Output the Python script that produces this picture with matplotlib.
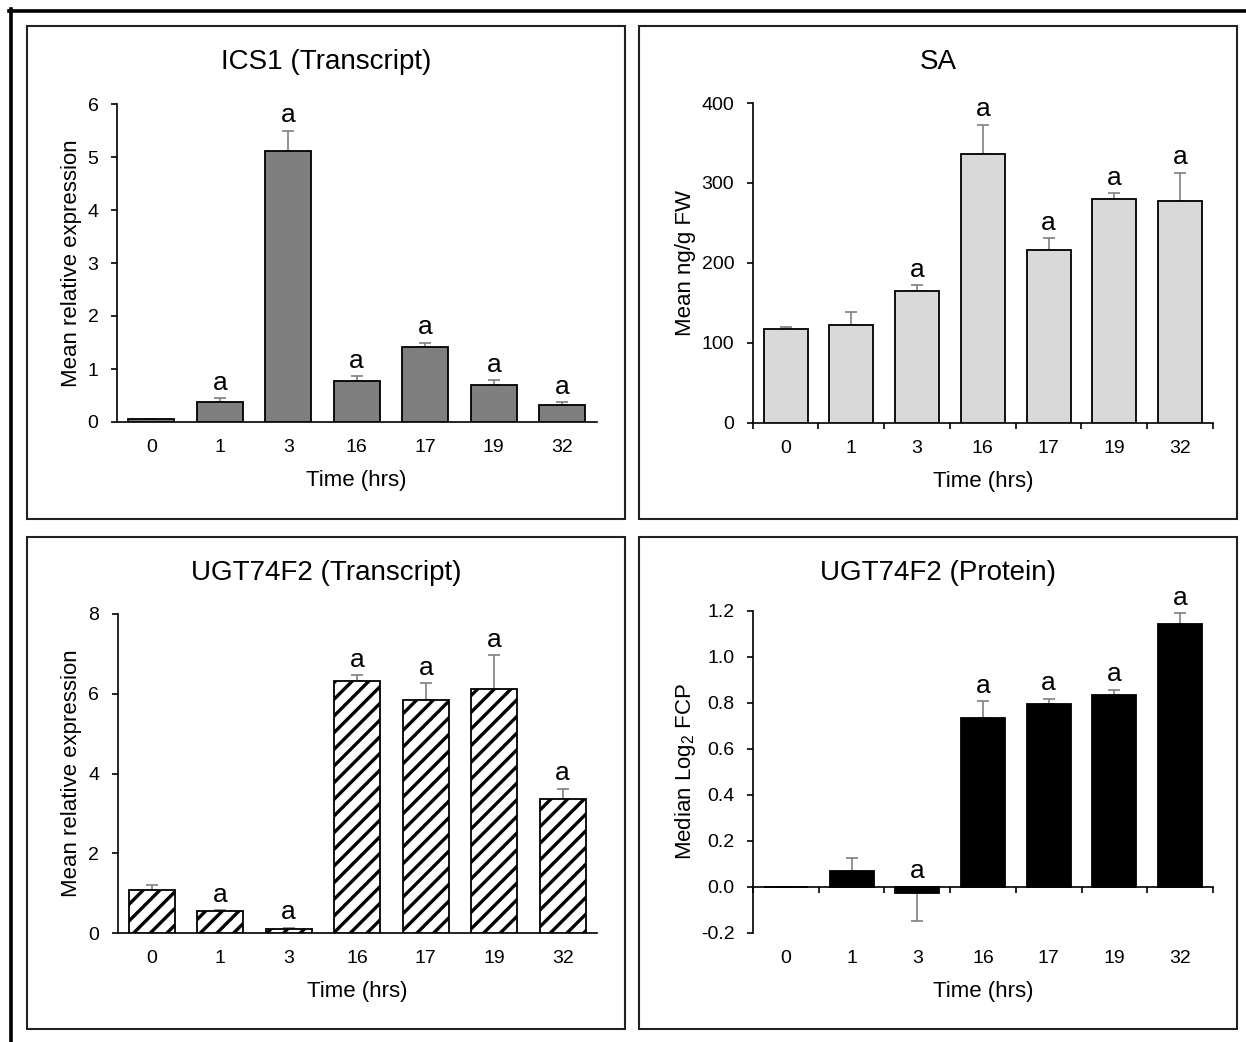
import matplotlib
matplotlib.use("Agg")
import matplotlib.pyplot as plt
from matplotlib.patches import Rectangle
from matplotlib.lines import Line2D
from matplotlib.ticker import FormatStrFormatter

plt.rcParams['font.family'] = ['Liberation Sans', 'DejaVu Sans']
plt.rcParams['axes.unicode_minus'] = False
plt.rcParams['hatch.linewidth'] = 2.4

# ---------------- data ----------------
times = ['0', '1', '3', '16', '17', '19', '32']

ics1_mean = [0.05, 0.37, 5.11, 0.77, 1.41, 0.70, 0.32]
ics1_err = [0.01, 0.08, 0.39, 0.10, 0.09, 0.09, 0.05]
ics1_sig = ['', 'a', 'a', 'a', 'a', 'a', 'a']

sa_mean = [117, 122, 165, 336, 216, 280, 277]
sa_err = [3, 16, 7, 37, 15, 7, 36]
sa_sig = ['', '', 'a', 'a', 'a', 'a', 'a']

ugt_tx_mean = [1.09, 0.56, 0.11, 6.31, 5.85, 6.13, 3.37]
ugt_tx_err = [0.11, 0.02, 0.02, 0.15, 0.41, 0.83, 0.25]
ugt_tx_sig = ['', 'a', 'a', 'a', 'a', 'a', 'a']

ugt_pr_median = [0.0, 0.07, -0.026, 0.735, 0.794, 0.832, 1.142]
ugt_pr_err = [0.0, 0.056, 0.122, 0.072, 0.023, 0.025, 0.047]
ugt_pr_sig = ['', '', 'a', 'a', 'a', 'a', 'a']

W, H = 1246, 1042
fig = plt.figure(figsize=(W / 100, H / 100), dpi=100)


def fx(x):
    return x / W


def fy(y):
    return 1 - y / H


# outer frame (top and left)
fig.add_artist(Line2D([fx(9), 1], [fy(10.5), fy(10.5)], lw=2.6, color='black',
                      transform=fig.transFigure))
fig.add_artist(Line2D([fx(10.5), fx(10.5)], [fy(9), 0], lw=2.6, color='black',
                      transform=fig.transFigure))

panels = [(27, 26, 625, 519), (639, 26, 1237, 519),
          (27, 537, 625, 1029), (639, 537, 1237, 1029)]
for (x0, y0, x1, y1) in panels:
    fig.add_artist(Rectangle((fx(x0), fy(y1)), (x1 - x0) / W, (y1 - y0) / H,
                             fill=False, lw=1.5, ec='#222222',
                             transform=fig.transFigure))


def panel(ax_px, panel_px, values, errs, sig, ylim, yticks, color, hatch,
          boundary_ticks, ylabel, ylabel_x, title, zero_spine=False, yfmt=None):
    l, t, r, b = ax_px
    ax = fig.add_axes([fx(l), fy(b), (r - l) / W, (b - t) / H])
    x = list(range(len(times)))
    lower = [e if v < 0 else 0 for v, e in zip(values, errs)]
    upper = [e if v >= 0 else 0 for v, e in zip(values, errs)]
    ax.bar(x, values, width=0.67, color=color, edgecolor='black', linewidth=1.3,
           hatch=hatch, zorder=3)
    ax.errorbar(x, values, yerr=[lower, upper], fmt='none', ecolor='#7f7f7f',
                elinewidth=1.2, capsize=4, capthick=1.2, zorder=2)
    for xi, v, e, s in zip(x, values, errs, sig):
        if s:
            top = v + e if v >= 0 else 0
            ax.annotate(s, (xi, top), xytext=(0, 6), textcoords='offset points',
                        ha='center', va='baseline', fontsize=19)
    ax.set_xlim(-0.5, len(times) - 0.5)
    ax.set_ylim(*ylim)
    ax.set_yticks(yticks)
    if yfmt:
        ax.yaxis.set_major_formatter(FormatStrFormatter(yfmt))
    ax.set_xticks(x)
    ax.set_xticklabels(times)
    for sp in ['top', 'right']:
        ax.spines[sp].set_visible(False)
    for sp in ['left', 'bottom']:
        ax.spines[sp].set_linewidth(1.2)
    xpad = 12.2
    if zero_spine:
        ax.spines['bottom'].set_position(('data', 0))
        # distance from zero line to axes bottom in px
        zero_px = (0 - ylim[0]) / (ylim[1] - ylim[0]) * (b - t)
        xpad = (17 + zero_px) * 0.72
    ax.tick_params(axis='x', which='major', length=0, pad=xpad, labelsize=14)
    if boundary_ticks:
        ax.set_xticks([i + 0.5 for i in range(-1, len(times))], minor=True)
        ax.tick_params(axis='x', which='minor', length=4.3, width=1.2,
                       direction='out')
    ax.tick_params(axis='y', length=4.3, width=1.2, direction='out', pad=9,
                   labelsize=14)
    ax.set_facecolor('none')
    # labels
    cx = (l + r) / 2
    fig.text(fx(ylabel_x), fy((t + b) / 2), ylabel, rotation=90, ha='center',
             va='center', fontsize=16)
    fig.text(fx(cx), fy(b + 64), 'Time (hrs)', ha='center', va='baseline',
             fontsize=16)
    px0, py0, px1, py1 = panel_px
    fig.text(fx((px0 + px1) / 2), fy(py0 + 43.3), title, ha='center',
             va='baseline', fontsize=20)
    return ax


panel((117, 104, 596.5, 422), panels[0], ics1_mean, ics1_err, ics1_sig,
      (0, 6), [0, 1, 2, 3, 4, 5, 6], '#7f7f7f', None, False,
      'Mean relative expression', 71, 'ICS1 (Transcript)')

panel((752.7, 103, 1213, 422.7), panels[1], sa_mean, sa_err, sa_sig,
      (0, 400), [0, 100, 200, 300, 400], '#d9d9d9', None, True,
      'Mean ng/g FW', 686, 'SA')

panel((117.5, 614, 597, 933), panels[2], ugt_tx_mean, ugt_tx_err, ugt_tx_sig,
      (0, 8), [0, 2, 4, 6, 8], 'white', '//', False,
      'Mean relative expression', 71, 'UGT74F2 (Transcript)')

panel((753, 610.7, 1213, 932.7), panels[3], ugt_pr_median, ugt_pr_err, ugt_pr_sig,
      (-0.2, 1.2), [-0.2, 0.0, 0.2, 0.4, 0.6, 0.8, 1.0, 1.2], 'black', None, True,
      r'Median Log$_\mathregular{2}$ FCP', 686, 'UGT74F2 (Protein)',
      zero_spine=True, yfmt='%.1f')

fig.savefig('out.png', dpi=100)
